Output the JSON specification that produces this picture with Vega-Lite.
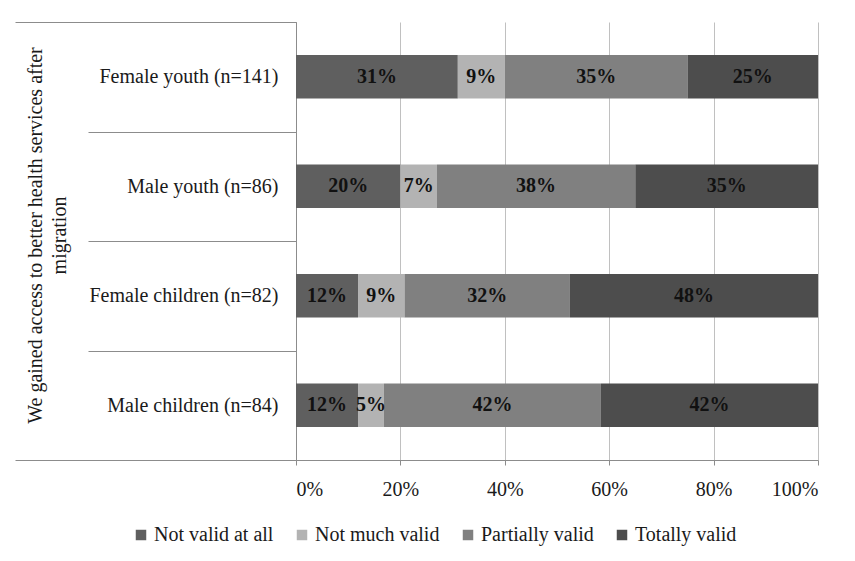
{
  "$schema": "https://vega.github.io/schema/vega-lite/v6.json",
  "width": 522,
  "height": 438,
  "autosize": "none",
  "padding": {"left": 296, "top": 22, "right": 37, "bottom": 101},
  "background": "white",
  "config": {"font": "Liberation Serif, Times New Roman, serif", "view": {"stroke": null}},
  "data": {
    "values": [
      {"group": "Female youth (n=141)", "resp": "Not valid at all", "k": 1, "p": 0.31},
      {"group": "Female youth (n=141)", "resp": "Not much valid", "k": 2, "p": 0.09},
      {"group": "Female youth (n=141)", "resp": "Partially valid", "k": 3, "p": 0.35},
      {"group": "Female youth (n=141)", "resp": "Totally valid", "k": 4, "p": 0.25},
      {"group": "Male youth (n=86)", "resp": "Not valid at all", "k": 1, "p": 0.20},
      {"group": "Male youth (n=86)", "resp": "Not much valid", "k": 2, "p": 0.07},
      {"group": "Male youth (n=86)", "resp": "Partially valid", "k": 3, "p": 0.38},
      {"group": "Male youth (n=86)", "resp": "Totally valid", "k": 4, "p": 0.35},
      {"group": "Female children (n=82)", "resp": "Not valid at all", "k": 1, "p": 0.12},
      {"group": "Female children (n=82)", "resp": "Not much valid", "k": 2, "p": 0.09},
      {"group": "Female children (n=82)", "resp": "Partially valid", "k": 3, "p": 0.32},
      {"group": "Female children (n=82)", "resp": "Totally valid", "k": 4, "p": 0.48},
      {"group": "Male children (n=84)", "resp": "Not valid at all", "k": 1, "p": 0.12},
      {"group": "Male children (n=84)", "resp": "Not much valid", "k": 2, "p": 0.05},
      {"group": "Male children (n=84)", "resp": "Partially valid", "k": 3, "p": 0.42},
      {"group": "Male children (n=84)", "resp": "Totally valid", "k": 4, "p": 0.42}
    ]
  },
  "encoding": {
    "x": {
      "field": "p",
      "type": "quantitative",
      "stack": "normalize",
      "scale": {"domain": [0, 1]},
      "axis": {
        "title": null,
        "format": ".0%",
        "values": [0, 0.2, 0.4, 0.6, 0.8, 1],
        "grid": true,
        "gridColor": "#c0c0c0",
        "domainColor": "#8c8c8c",
        "tickColor": "#8c8c8c",
        "tickSize": 5,
        "labelPadding": 14,
        "labelFontSize": 20,
        "labelFont": "Liberation Serif, Times New Roman, serif",
        "labelColor": "#1a1a1a"
      }
    },
    "order": {"field": "k", "type": "quantitative"}
  },
  "layer": [
    {
      "mark": {"type": "bar", "height": {"band": 0.395}},
      "encoding": {
        "y": {
          "field": "group",
          "type": "nominal",
          "sort": ["Female youth (n=141)", "Male youth (n=86)", "Female children (n=82)", "Male children (n=84)"],
          "scale": {"paddingInner": 0, "paddingOuter": 0},
          "axis": {
            "orient": "left",
            "title": ["We gained access to better health services after", "migration"],
            "tickBand": "extent",
            "tickSize": 208,
            "tickColor": "#8c8c8c",
            "domainColor": "#8c8c8c",
            "labelPadding": -190,
            "labelFontSize": 20,
            "labelFont": "Liberation Serif, Times New Roman, serif",
            "labelColor": "#1a1a1a",
            "labelLimit": 300,
            "titleFont": "Liberation Serif, Times New Roman, serif",
            "titleFontSize": 20,
            "titleFontWeight": "normal",
            "titleColor": "#1a1a1a",
            "titleAngle": -90,
            "titleX": -271,
            "titleY": 213,
            "titleAlign": "center",
            "titleBaseline": "top",
            "titleLineHeight": 24
          }
        },
        "color": {
          "field": "resp",
          "type": "nominal",
          "scale": {
            "domain": ["Not valid at all", "Not much valid", "Partially valid", "Totally valid"],
            "range": ["#5f5f5f", "#b3b3b3", "#808080", "#4d4d4d"]
          },
          "legend": {
            "title": null,
            "orient": "none",
            "legendX": -165,
            "legendY": 503,
            "direction": "horizontal",
            "symbolType": "square",
            "symbolSize": 110,
            "symbolStrokeWidth": 0,
            "labelFontSize": 20,
            "labelFont": "Liberation Serif, Times New Roman, serif",
            "labelColor": "#1a1a1a",
            "labelOffset": 3,
            "labelLimit": 300,
            "columnPadding": 18
          }
        }
      }
    },
    {
      "mark": {"type": "text", "fontWeight": "bold", "fontSize": 20, "font": "Liberation Serif, Times New Roman, serif", "color": "#111111"},
      "encoding": {
        "y": {
          "field": "group",
          "type": "nominal",
          "sort": ["Female youth (n=141)", "Male youth (n=86)", "Female children (n=82)", "Male children (n=84)"],
          "axis": {
            "orient": "left",
            "title": null,
            "labels": false,
            "domain": false,
            "bandPosition": 0,
            "tickSize": 281,
            "tickColor": "#8c8c8c",
            "tickOpacity": {"condition": {"test": "datum.index === 0", "value": 1}, "value": 0}
          }
        },
        "x": {"field": "p", "type": "quantitative", "stack": "normalize", "bandPosition": 0.5},
        "detail": {"field": "resp"},
        "text": {"field": "p", "type": "quantitative", "format": ".0%"}
      }
    },
    {
      "mark": {"type": "bar", "opacity": 0, "height": {"band": 0.395}},
      "encoding": {
        "y": {
          "field": "group",
          "type": "nominal",
          "sort": ["Female youth (n=141)", "Male youth (n=86)", "Female children (n=82)", "Male children (n=84)"],
          "axis": {
            "orient": "left",
            "title": null,
            "labels": false,
            "domain": false,
            "bandPosition": 1,
            "tickSize": 281,
            "tickColor": "#8c8c8c",
            "tickOpacity": {"condition": {"test": "datum.index === 1", "value": 1}, "value": 0}
          }
        },
        "detail": {"field": "resp"}
      }
    }
  ],
  "resolve": {"axis": {"y": "independent"}}
}
